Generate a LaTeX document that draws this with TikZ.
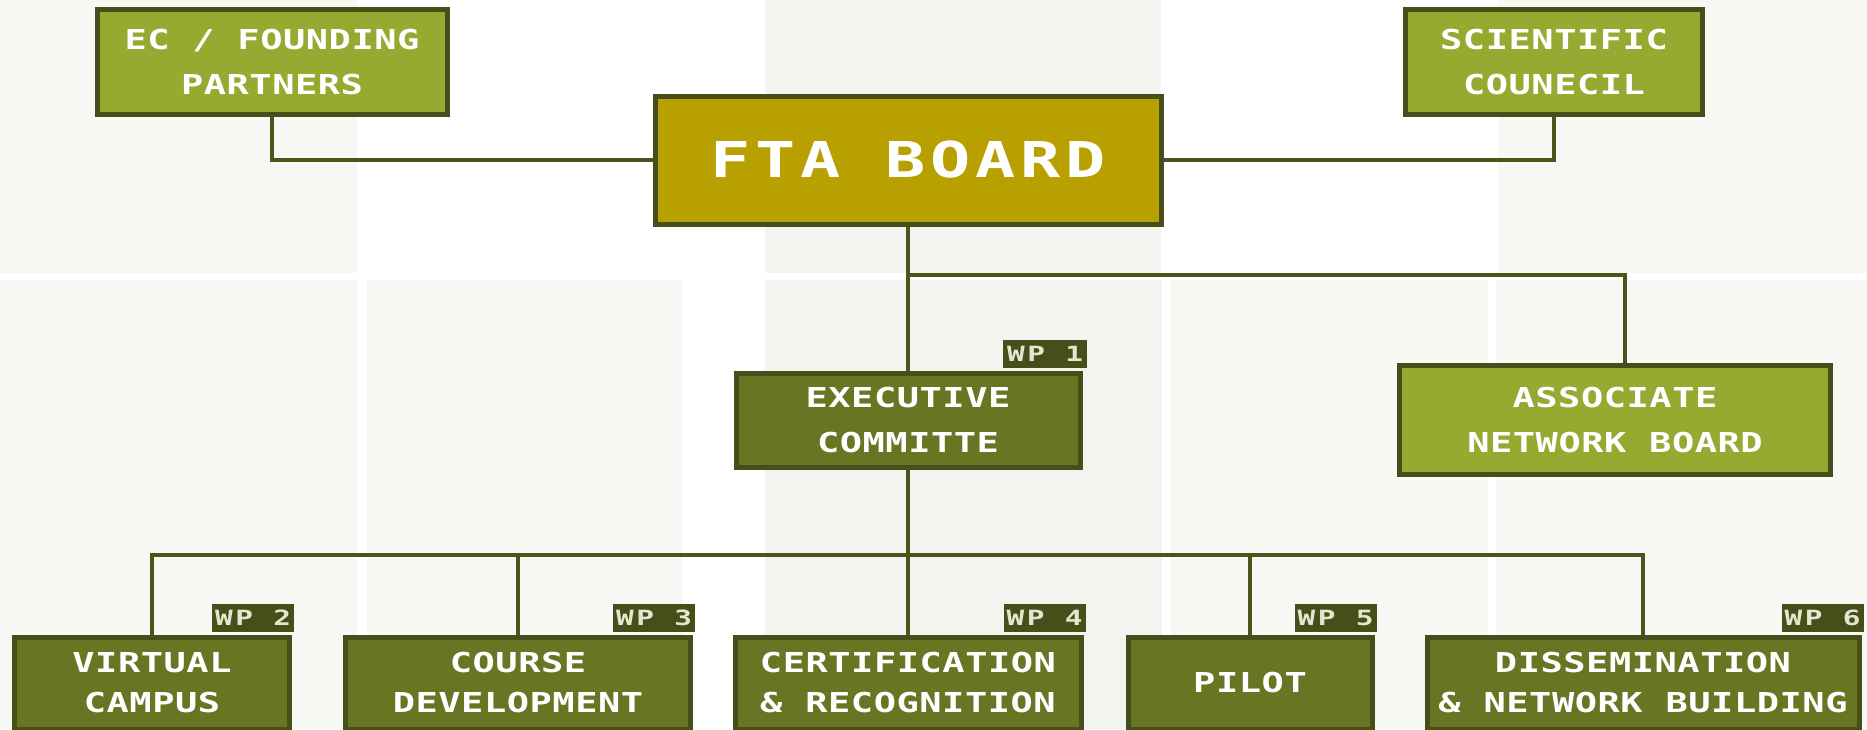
\documentclass[tikz,border=0pt]{standalone}
\usepackage{fontspec}
\newfontfamily\pixfont[FakeStretch=1.35,LetterSpace=2]{DejaVu Sans Mono}
\newfontfamily\boardfont[FakeStretch=1.35,LetterSpace=10]{DejaVu Sans Mono}
\newfontfamily\tabfont[FakeStretch=1.4,LetterSpace=12]{DejaVu Sans Mono}
\definecolor{boxlight}{RGB}{149,170,48}
\definecolor{boxdark}{RGB}{105,117,34}
\definecolor{boardgold}{RGB}{184,160,0}
\definecolor{edgeolive}{RGB}{70,78,25}
\definecolor{linkolive}{RGB}{76,84,28}
\definecolor{panel}{RGB}{247,247,243}
\definecolor{panelmid}{RGB}{243,243,240}
\def\unitfont{\pixfont\bfseries\fontsize{13.7}{22.5}\selectfont}
\def\wpfont{\pixfont\bfseries\fontsize{13.7}{20}\selectfont}

\begin{document}
\begin{tikzpicture}[x=0.5pt,y=-0.5pt,
  unit/.style={draw=edgeolive,line width=2.5pt,text=white,align=center,inner sep=0pt,minimum height=52.5pt,font=\unitfont},
  board/.style={unit,fill=boardgold,minimum width=253pt,minimum height=64pt,font=\boardfont\bfseries\fontsize{24.7}{30}\selectfont},
  upper/.style={unit,fill=boxlight},
  wpbox/.style={unit,fill=boxdark,minimum height=46pt,font=\wpfont},
  wptab/.style={fill=edgeolive,text={rgb,255:red,228;green,231;blue,208},inner sep=0pt,minimum width=41pt,minimum height=14pt,anchor=south east,font=\tabfont\bfseries\fontsize{10.5}{10.5}\selectfont},
  link/.style={draw=linkolive,line width=2.2pt}]
\useasboundingbox (0,0) rectangle (1867,729);
\fill[white] (0,0) rectangle (1867,729);
\fill[panel] (0,0) rectangle (357,273);
\fill[panelmid] (765,0) rectangle (1161,273);
\fill[panel] (1498,0) rectangle (1867,273);
\fill[panel] (0,280) rectangle (357,729);
\fill[panel] (367,280) rectangle (682,729);
\fill[panelmid] (765,280) rectangle (1162,729);
\fill[panel] (1170,280) rectangle (1488,729);
\fill[panel] (1496,280) rectangle (1867,729);

\node[upper,minimum width=175pt] (ec) at (272,62) {EC / FOUNDING\\PARTNERS};
\node[upper,minimum width=148.5pt] (sci) at (1554,62) {SCIENTIFIC\\COUNECIL};
\node[board] (fta) at (908,160) {FTA BOARD};
\node[unit,fill=boxdark,minimum width=172pt,minimum height=47pt] (exec) at (908,420) {EXECUTIVE\\COMMITTE};
\node[upper,minimum width=215.5pt,minimum height=54.5pt] (assoc) at (1615,420) {ASSOCIATE\\NETWORK BOARD};

\node[wpbox,minimum width=137.5pt] (virtual) at (152,683) {VIRTUAL\\CAMPUS};
\node[wpbox,minimum width=172.5pt] (course) at (518,683) {COURSE\\DEVELOPMENT};
\node[wpbox,minimum width=173pt] (cert) at (908,683) {CERTIFICATION\\\& RECOGNITION};
\node[wpbox,minimum width=122pt] (pilot) at (1250,683) {PILOT};
\node[wpbox,minimum width=216pt] (diss) at (1643,683) {DISSEMINATION\\\& NETWORK BUILDING};

\node[wptab,minimum width=42pt] (wp1) at ([xshift=2.5pt,yshift=1.25pt]exec.north east) {WP 1};
\node[wptab] (wp2) at ([xshift=1.25pt,yshift=1.25pt]virtual.north east) {WP 2};
\node[wptab] (wp3) at ([xshift=1.25pt,yshift=1.25pt]course.north east) {WP 3};
\node[wptab] (wp4) at ([xshift=1.25pt,yshift=1.25pt]cert.north east) {WP 4};
\node[wptab] (wp5) at ([xshift=1.25pt,yshift=1.25pt]pilot.north east) {WP 5};
\node[wptab] (wp6) at ([xshift=1.25pt,yshift=1.25pt]diss.north east) {WP 6};

\coordinate (split) at (908,275);
\coordinate (bus) at (908,555);
\begin{scope}[on background layer/.try]
\draw[link] (ec) |- (fta);
\draw[link] (sci) |- (fta);
\draw[link] (fta) -- (exec);
\draw[link] (split) -| ([xshift=5pt]assoc.north);
\draw[link] (exec) -- (cert);
\draw[link] (virtual.north) |- (bus) -| (diss.north);
\draw[link] (course.north) -- (course.north |- bus);
\draw[link] (pilot.north) -- (pilot.north |- bus);
\end{scope}
\end{tikzpicture}
\end{document}
